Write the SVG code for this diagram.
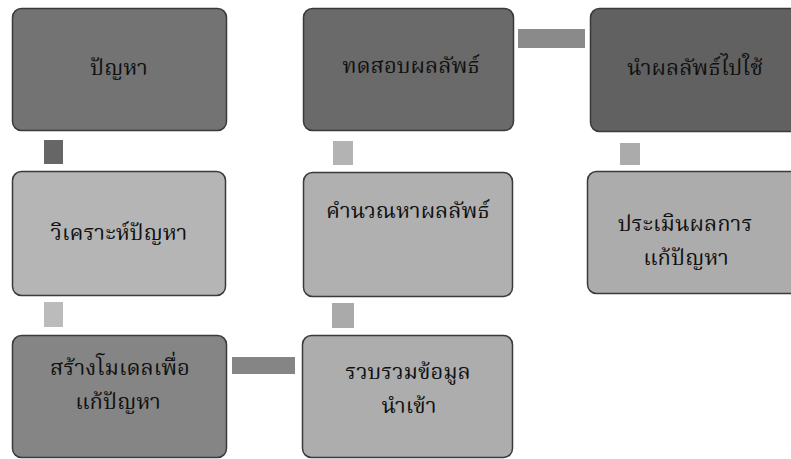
<svg xmlns="http://www.w3.org/2000/svg" width="791" height="459" viewBox="0 0 791 459">
<style>
.box{stroke:#3a3a3a;stroke-width:1.5}
.lbl{font-family:"Noto Serif Thai","Noto Sans Thai","Liberation Serif",serif;font-size:22px;fill:#111;text-anchor:middle}
.con{stroke:none}
</style>
<rect width="791" height="459" fill="#ffffff"/>
<g id="connectors">
<rect class="con" x="44" y="140" width="19" height="24" fill="#666666"/>
<rect class="con" x="333" y="141" width="20" height="24" fill="#b3b3b3"/>
<rect class="con" x="620" y="143" width="20" height="22" fill="#ababab"/>
<rect class="con" x="44" y="302" width="19" height="25" fill="#bbbbbb"/>
<rect class="con" x="332" y="303" width="22" height="25" fill="#aaaaaa"/>
<rect class="con" x="518" y="29" width="67" height="19" fill="#8a8a8a"/>
<rect class="con" x="232" y="357" width="63" height="17" fill="#858585"/>
</g>
<g id="n1"><rect class="box" x="12.5" y="8.5" width="214" height="122" rx="9" fill="#737373"/><text class="lbl" x="119" y="75">ปัญหา</text></g>
<g id="n2"><rect class="box" x="12.5" y="171.5" width="213" height="124" rx="9" fill="#b5b5b5"/><text class="lbl" x="119" y="240">วิเคราะห์ปัญหา</text></g>
<g id="n3"><rect class="box" x="12.5" y="335.5" width="214" height="122" rx="9" fill="#858585"/><text class="lbl" x="120" y="375">สร้างโมเดลเพื่อ</text><text class="lbl" x="118" y="409">แก้ปัญหา</text></g>
<g id="n4"><rect class="box" x="302.5" y="335.5" width="210" height="122" rx="9" fill="#adadad"/><text class="lbl" x="408" y="379">รวบรวมข้อมูล</text><text class="lbl" x="409" y="413">นำเข้า</text></g>
<g id="n5"><rect class="box" x="303.5" y="172.5" width="209" height="124" rx="9" fill="#b0b0b0"/><text class="lbl" x="408" y="218">คำนวณหาผลลัพธ์</text></g>
<g id="n6"><rect class="box" x="303.5" y="8.5" width="210" height="122" rx="9" fill="#6a6a6a"/><text class="lbl" x="411" y="73">ทดสอบผลลัพธ์</text></g>
<g id="n7"><rect class="box" x="590.5" y="8.5" width="210" height="123" rx="9" fill="#616161"/><text class="lbl" x="695" y="75">นำผลลัพธ์ไปใช้</text></g>
<g id="n8"><rect class="box" x="587.5" y="171.5" width="212" height="122" rx="9" fill="#acacac"/><text class="lbl" x="685" y="231">ประเมินผลการ</text><text class="lbl" x="686" y="265">แก้ปัญหา</text></g>
</svg>
